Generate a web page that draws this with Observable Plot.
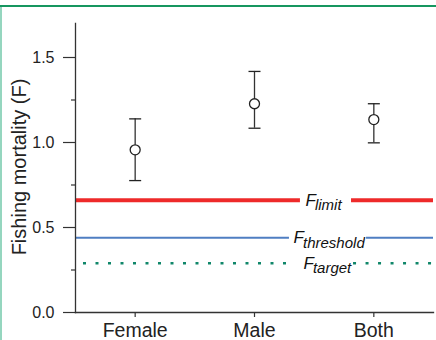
<!DOCTYPE html>
<html>
<head>
<meta charset="utf-8">
<script src="https://cdn.jsdelivr.net/npm/d3@7"></script>
<script src="https://cdn.jsdelivr.net/npm/@observablehq/plot@0.6"></script>
<style>
  html, body { margin: 0; padding: 0; background: #fff; }
  #wrap { position: relative; width: 436px; height: 340px; overflow: hidden; }
  #topline { position: absolute; left: 0; top: 5px; width: 436px; height: 2px; background: #16965f; }
  #leftline { position: absolute; left: 0; top: 7px; width: 2px; height: 333px; background: #95d6bf; }
  #chart { position: absolute; left: 0; top: 0; }
</style>
</head>
<body>
<div id="wrap">
  <div id="chart"></div>
  <div id="topline"></div>
  <div id="leftline"></div>
</div>
<script>
// ---- data ----
const categories = ["Female", "Male", "Both"];
const estimate = [0.957, 1.228, 1.135];
const lower = [0.776, 1.084, 0.998];
const upper = [1.139, 1.418, 1.228];

const refNames = ["limit", "threshold", "target"];
const refValues = [0.66, 0.44, 0.29];

const yTicks = [0, 0.5, 1.0, 1.5];
const yMinorTicks = [0.25, 0.75, 1.25];
const yLabel = "Fishing mortality (F)";

// ---- layout (category-index units on the x scale) ----
const catIdx = categories.map((_, i) => i);
const refLayout = {
  limit:     { start: -0.5,   gap: [1.385, 1.813], end: 2.5, labelX: 1.427 },
  threshold: { start: -0.5,   gap: [1.293, 1.939], end: 2.5, labelX: 1.327 },
  target:    { start: -0.433, gap: [1.300, 1.830], end: 2.5, labelX: 1.410 }
};
const refStyle = {
  limit:     { stroke: "#ee2a2a", strokeWidth: 4 },
  threshold: { stroke: "#4f7ec2", strokeWidth: 2 },
  target:    { stroke: "#10876a", strokeWidth: 2.5, strokeDasharray: "3,9.5" }
};
const refData = refNames.map((n, i) => ({ name: n, value: refValues[i] }));

function segmentsFor(name) {
  const d = refData.find(r => r.name === name);
  const L = refLayout[name];
  return [
    { y: d.value, x1: L.start, x2: L.gap[0] },
    { y: d.value, x1: L.gap[1], x2: L.end }
  ];
}

const capSymbol = {
  draw(context) { context.moveTo(-6, 0); context.lineTo(6, 0); }
};

const font = "'Liberation Sans', Arial, Helvetica, sans-serif";

const chart = Plot.plot({
  width: 436,
  height: 340,
  marginLeft: 75,
  marginRight: 3,
  marginTop: 23,
  marginBottom: 28,
  style: { fontFamily: font, background: "transparent", color: "#222" },
  x: { domain: [-0.5, 2.5] },
  y: { domain: [0, 1.7] },
  marks: [
    // reference lines with gaps for labels
    ...refNames.map(n => Plot.ruleY(segmentsFor(n), { y: "y", x1: "x1", x2: "x2", ...refStyle[n] })),
    // labels F_name
    Plot.text(refData, {
      x: d => refLayout[d.name].labelX, y: "value", text: () => "F",
      textAnchor: "start", fontStyle: "italic", fontSize: 17, fill: "#111"
    }),
    Plot.text(refData, {
      x: d => refLayout[d.name].labelX, y: "value", text: "name",
      textAnchor: "start", fontStyle: "italic", fontSize: 15, fill: "#111", dx: 9.5, dy: 5
    }),
    // axes
    Plot.axisY(yTicks, { tickSize: 12, tickPadding: 9, tickFormat: d => d.toFixed(1), fontSize: 16, stroke: "#333", strokeWidth: 1.2, fill: "#222", label: null }),
    Plot.axisY(yMinorTicks, { tickSize: 4, tickFormat: () => "", stroke: "#333", strokeWidth: 1.2, label: null }),
    Plot.axisX(catIdx, { tickSize: 5, tickPadding: 6, tickFormat: i => categories[i], fontSize: 19.5, stroke: "#333", strokeWidth: 1.2, fill: "#222", label: null }),
    Plot.frame({ anchor: "left", stroke: "#333", strokeWidth: 1.3 }),
    Plot.frame({ anchor: "bottom", stroke: "#333", strokeWidth: 1.3 }),
    // y axis title
    Plot.text([yLabel], { frameAnchor: "left", text: d => d, rotate: -90, textAnchor: "middle", dx: -55.5, dy: -1, fontSize: 20, fill: "#222" }),
    // error bars
    Plot.ruleX(catIdx, { x: i => i, y1: i => lower[i], y2: i => upper[i], stroke: "#333", strokeWidth: 1.3 }),
    Plot.dot(catIdx, { x: i => i, y: i => lower[i], symbol: capSymbol, stroke: "#222", strokeWidth: 1.3, fill: "none", r: 6 }),
    Plot.dot(catIdx, { x: i => i, y: i => upper[i], symbol: capSymbol, stroke: "#222", strokeWidth: 1.3, fill: "none", r: 6 }),
    Plot.dot(catIdx, { x: i => i, y: i => estimate[i], r: 5, fill: "white", stroke: "#222", strokeWidth: 1.3 })
  ]
});
document.getElementById("chart").appendChild(chart);
</script>
</body>
</html>
